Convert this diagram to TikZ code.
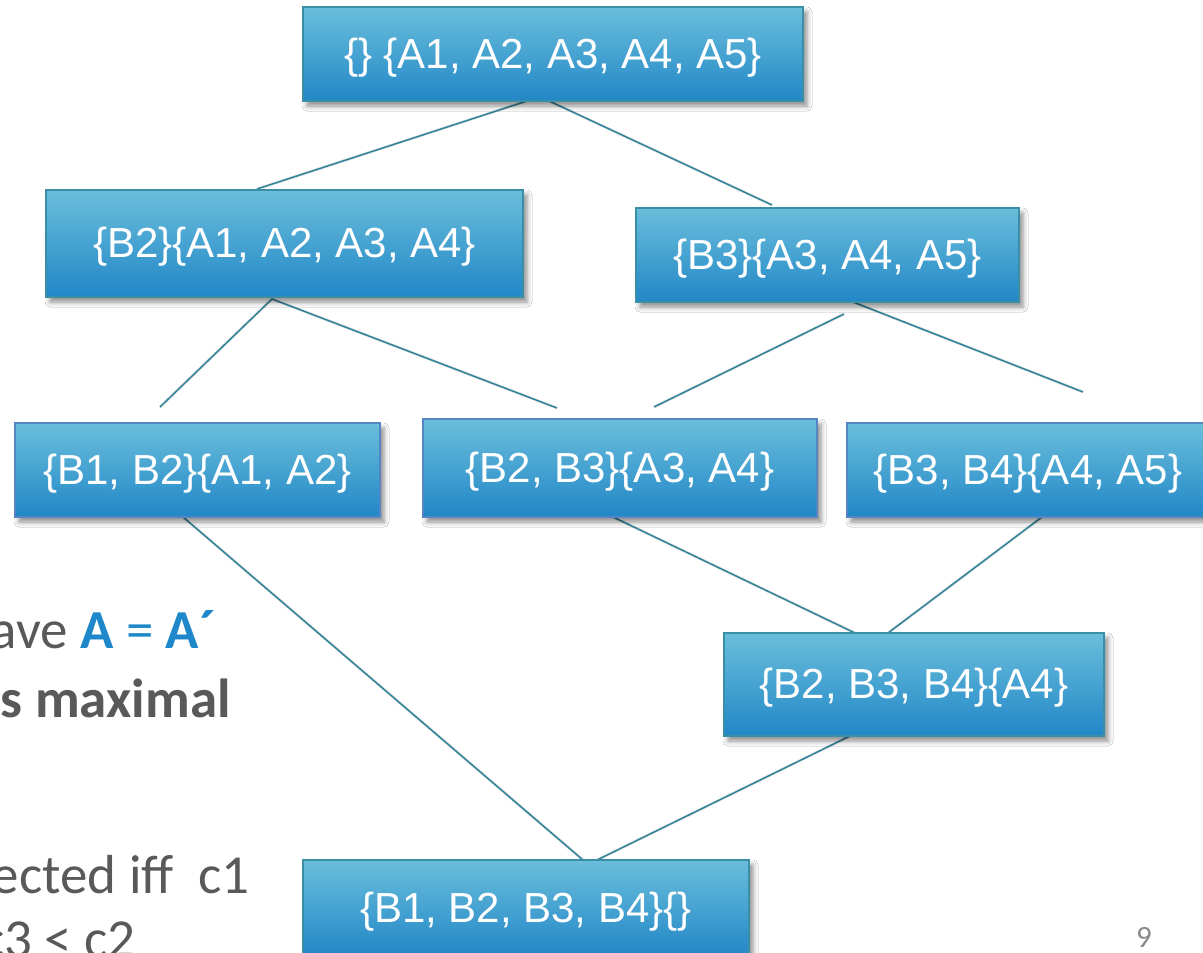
\documentclass[tikz,border=0pt]{standalone}
\usepackage{fontspec}
\setmainfont{Liberation Sans}
\newfontfamily\slidefont{Carlito}
\usetikzlibrary{shadows.blur}

\definecolor{boxtop}{HTML}{6ABEDB}
\definecolor{boxbot}{HTML}{2287C7}
\definecolor{edgeteal}{HTML}{3A8EA5}
\definecolor{edgeblue}{HTML}{5585C4}
\definecolor{linkc}{HTML}{2F8399}
\definecolor{bodygrey}{HTML}{595959}
\definecolor{keyblue}{HTML}{1F88CA}
\definecolor{pagegrey}{HTML}{8A8A8A}

\tikzset{
  concept/.style={rectangle, top color=boxtop, bottom color=boxbot,
    draw=edgeteal, line width=1.6pt, text=white, inner sep=0pt,
    font=\fontsize{42}{50}\selectfont, text height=37pt, text depth=9pt,
    blur shadow={shadow xshift=4pt, shadow yshift=-5pt,
      shadow blur radius=5pt, shadow opacity=45}},
  blueedge/.style={draw=edgeblue},
  link/.style={draw=linkc, line width=1.5pt},
  linkshade/.style={draw=black, opacity=0.10, line width=3pt},
  bodytext/.style={anchor=base east, inner sep=0pt, text=bodygrey,
    font=\slidefont\fontsize{55}{62}\selectfont},
}

\begin{document}
\begin{tikzpicture}[x=1pt, y=-1pt]
  \useasboundingbox (0,0) rectangle (1203,953);
  \clip (0,0) rectangle (1203,953);
  \fill[white] (0,0) rectangle (1203,953);

  % end points of the lattice edges
  \coordinate (top-l) at (530,100);
  \coordinate (top-r) at (547,100);
  \coordinate (b2-in) at (257,189);
  \coordinate (b3-in) at (772,205);
  \coordinate (b2-out) at (272,299);
  \coordinate (b12-in) at (160,407);
  \coordinate (b23-inl) at (557,408);
  \coordinate (b3-outl) at (844,314);
  \coordinate (b3-outr) at (853,302);
  \coordinate (b23-inr) at (654,407);
  \coordinate (b34-in) at (1083,392);
  \coordinate (b12-out) at (183,517);
  \coordinate (b23-out) at (613,517);
  \coordinate (b34-out) at (1042,517);
  \coordinate (b234-inl) at (855,633);
  \coordinate (b234-inr) at (888,633);
  \coordinate (b234-out) at (850,736);
  \coordinate (bot-inl) at (583,860);
  \coordinate (bot-inr) at (597,860);

  % soft shadows under the edges
  \begin{scope}[shift={(2,3)}]
    \draw[linkshade] (top-l) -- (b2-in);
    \draw[linkshade] (top-r) -- (b3-in);
    \draw[linkshade] (b2-out) -- (b12-in);
    \draw[linkshade] (b2-out) -- (b23-inl);
    \draw[linkshade] (b3-outl) -- (b23-inr);
    \draw[linkshade] (b3-outr) -- (b34-in);
    \draw[linkshade] (b12-out) -- (bot-inl);
    \draw[linkshade] (b23-out) -- (b234-inl);
    \draw[linkshade] (b34-out) -- (b234-inr);
    \draw[linkshade] (b234-out) -- (bot-inr);
  \end{scope}

  % lattice edges
  \draw[link] (top-l) -- (b2-in);
  \draw[link] (top-r) -- (b3-in);
  \draw[link] (b2-out) -- (b12-in);
  \draw[link] (b2-out) -- (b23-inl);
  \draw[link] (b3-outl) -- (b23-inr);
  \draw[link] (b3-outr) -- (b34-in);
  \draw[link] (b12-out) -- (bot-inl);
  \draw[link] (b23-out) -- (b234-inl);
  \draw[link] (b34-out) -- (b234-inr);
  \draw[link] (b234-out) -- (bot-inr);

  % concepts
  \node[concept, minimum width=500pt, minimum height=94pt] (top) at (553,54) {\{\} \{A1, A2, A3, A4, A5\}};
  \node[concept, minimum width=477pt, minimum height=107pt] (b2) at (284.5,243.5) {\{B2\}\{A1, A2, A3, A4\}};
  \node[concept, minimum width=383pt, minimum height=94pt] (b3) at (827.5,255) {\{B3\}\{A3, A4, A5\}};
  \node[concept, blueedge, minimum width=365pt, minimum height=94pt] (b12) at (197.5,470) {\{B1, B2\}\{A1, A2\}};
  \node[concept, blueedge, minimum width=394pt, minimum height=98pt] (b23) at (620,468) {\{B2, B3\}\{A3, A4\}};
  \node[concept, blueedge, minimum width=362pt, minimum height=94pt] (b34) at (1028,470) {\{B3, B4\}\{A4, A5\}};
  \node[concept, minimum width=380pt, minimum height=103pt] (b234) at (914,684.5) {\{B2, B3, B4\}\{A4\}};
  \node[concept, minimum width=446pt, minimum height=96pt] (bot) at (526,908) {\{B1, B2, B3, B4\}\{\}};

  % slide body text
  \node[bodytext] (t1) at (216,648) {ave \textcolor{keyblue}{\textbf{A} = \textbf{A´}}};
  \node[bodytext] (t2) at (231,717) {\bfseries s maximal};
  \node[bodytext] (t3) at (250,893) {ected iff\ \ c1};
  \node[bodytext] (t4) at (136,957) {c3 < c2};

  % page number
  \node[text=pagegrey, font=\slidefont\fontsize{31}{36}\selectfont, anchor=base] (pg) at (1144,947) {9};
\end{tikzpicture}
\end{document}
